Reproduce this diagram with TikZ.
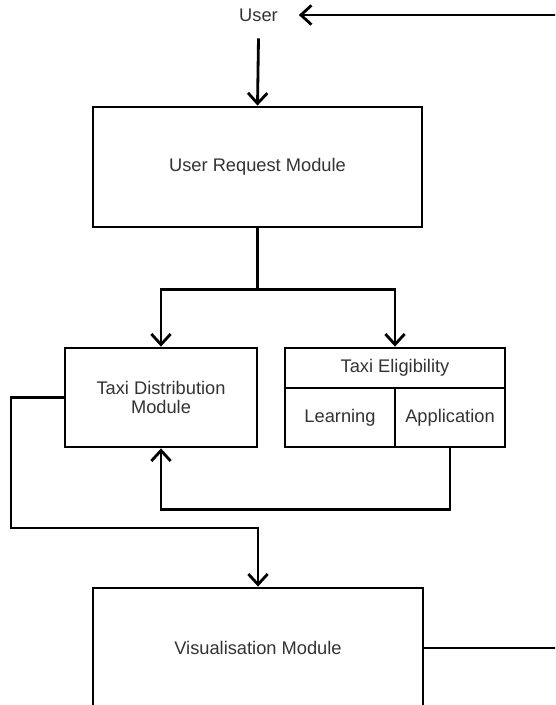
\documentclass[tikz,border=0pt]{standalone}
\usepackage{fontspec}
\setmainfont{Liberation Sans}
\definecolor{txtgray}{RGB}{51,51,51}
\usetikzlibrary{arrows.meta,positioning,calc}

\begin{document}
\begin{tikzpicture}[
  modbox/.style={draw=black, line width=1.6pt, text=txtgray, align=center, font=\fontsize{10.4}{11}\selectfont},
  flow/.style={line width=1.6pt, -{Straight Barb[length=6pt,width=11pt]}},
  link/.style={line width=1.6pt}
]
  \useasboundingbox (0,0) rectangle (11.1,14.1);
  \clip (0,0) rectangle (11.1,14.1);
  \fill[white] (0,0) rectangle (11.1,14.1);

  % User
  \node[text=txtgray, font=\fontsize{10.4}{11}\selectfont, minimum width=1.6cm, minimum height=0.92cm] (user) at (5.17,13.8) {User};

  %--- Modules ---
  \node[modbox, minimum width=6.58cm, minimum height=2.4cm] (urm) at (5.15,10.76) {User Request Module};
  \node[modbox, minimum width=3.84cm, minimum height=1.98cm] (tdm) at (3.22,6.15) {Taxi Distribution\\Module};

  % Taxi eligibility block
  \node[modbox, minimum width=4.4cm, minimum height=0.8cm] (tehead) at (7.9,6.74) {Taxi Eligibility};
  \node[modbox, minimum width=2.2cm, minimum height=1.18cm] (learn) at (6.8,5.75) {Learning};
  \node[modbox, minimum width=2.2cm, minimum height=1.18cm] (appl) at (9.0,5.75) {Application};

  \node[modbox, minimum width=6.6cm, minimum height=2.4cm] (vm) at (5.16,1.14) {Visualisation Module};

  %--- Connectors ---
  \draw[flow] (user.south) -- (urm.north);
  \draw[link] (urm.south) -- ++(0,-1.22) coordinate (fork);
  \draw[flow] (fork) -| (tdm.north);
  \draw[flow] (fork) -| (tehead.north);
  \draw[flow] (appl.south) -- ++(0,-1.22) -| (tdm.south);
  \draw[flow] (tdm.west) -| (0.22,3.54) -| (vm.north);
  \draw[flow] (vm.east) -- ++(3,0) |- (user.east);
\end{tikzpicture}
\end{document}
